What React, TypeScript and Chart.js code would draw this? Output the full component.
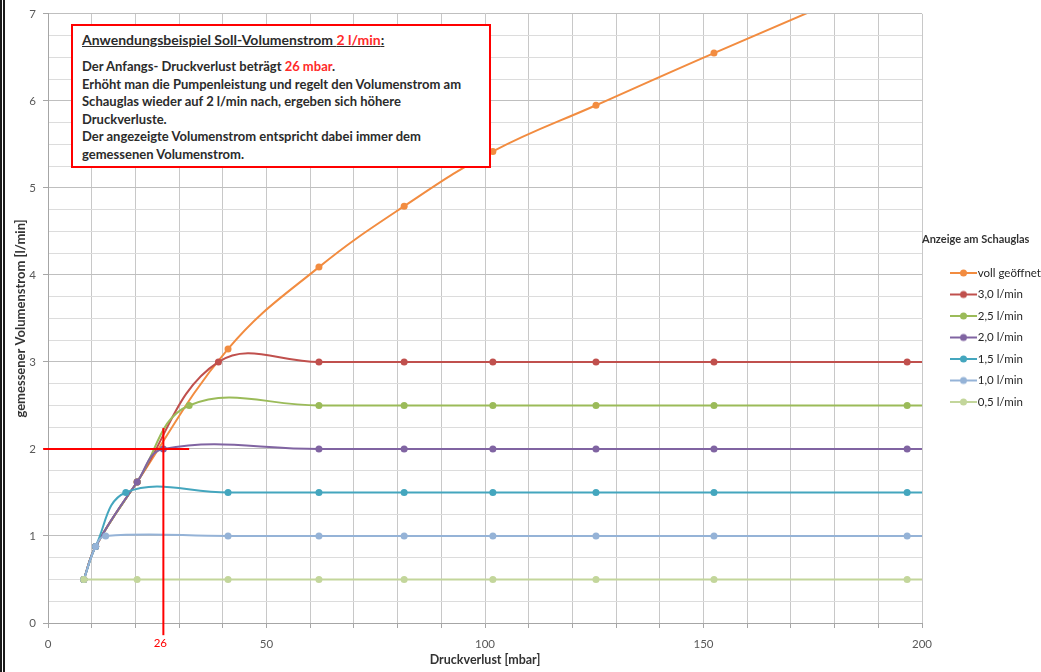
import React, { useEffect, useRef } from "react";
import { Chart, registerables } from "chart.js";

Chart.register(...registerables);

// ---- data ----
const SERIES_LABELS = ["voll geöffnet", "3,0 l/min", "2,5 l/min", "2,0 l/min", "1,5 l/min", "1,0 l/min", "0,5 l/min"];
const SERIES_COLORS = ["#F28C40", "#C0504D", "#9BBB59", "#8064A2", "#44A6BE", "#95B3D7", "#C3D69B"];

const X_VOLL = [8.2, 10.9, 20.4, 41.2, 62.0, 81.5, 101.8, 125.4, 152.4, 196.6];
const Y_VOLL = [0.5, 0.88, 1.62, 3.15, 4.09, 4.79, 5.42, 5.95, 6.55, 7.5];

const X_30 = [8.2, 10.9, 20.4, 39.0, 62.0, 81.5, 101.8, 125.4, 152.4, 196.6, 240];
const Y_30 = [0.5, 0.88, 1.62, 3.0, 3.0, 3.0, 3.0, 3.0, 3.0, 3.0, 3.0];

const X_25 = [8.2, 10.9, 20.4, 32.3, 62.0, 81.5, 101.8, 125.4, 152.4, 196.6, 240];
const Y_25 = [0.5, 0.88, 1.62, 2.5, 2.5, 2.5, 2.5, 2.5, 2.5, 2.5, 2.5];

const X_20 = [8.2, 10.9, 20.4, 26.4, 62.0, 81.5, 101.8, 125.4, 152.4, 196.6, 240];
const Y_20 = [0.5, 0.88, 1.62, 2.0, 2.0, 2.0, 2.0, 2.0, 2.0, 2.0, 2.0];

const X_15 = [8.2, 10.9, 17.8, 41.2, 62.0, 81.5, 101.8, 125.4, 152.4, 196.6, 240];
const Y_15 = [0.5, 0.88, 1.5, 1.5, 1.5, 1.5, 1.5, 1.5, 1.5, 1.5, 1.5];

const X_10 = [8.2, 10.9, 13.2, 41.2, 62.0, 81.5, 101.8, 125.4, 152.4, 196.6, 240];
const Y_10 = [0.5, 0.88, 1.0, 1.0, 1.0, 1.0, 1.0, 1.0, 1.0, 1.0, 1.0];

const X_05 = [8.2, 20.4, 41.2, 62.0, 81.5, 101.8, 125.4, 152.4, 196.6, 240];
const Y_05 = [0.5, 0.5, 0.5, 0.5, 0.5, 0.5, 0.5, 0.5, 0.5, 0.5];

const SERIES_X = [X_VOLL, X_30, X_25, X_20, X_15, X_10, X_05];
const SERIES_Y = [Y_VOLL, Y_30, Y_25, Y_20, Y_15, Y_10, Y_05];

const X_MIN = 0;
const X_MAX = 200;
const X_STEP = 10;
const X_LABEL_STEP = 50;
const Y_MIN = 0;
const Y_MAX = 7;
const Y_STEP = 0.25;

// example annotation (target 2 l/min -> 26 mbar)
const TARGET_FLOW = 2;
const TARGET_DP = 26.4;
const TARGET_DP_LABEL = "26";
const H_LINE_FROM = -1.1;
const H_LINE_TO = 32.3;
const V_LINE_TOP = 2.24;
const V_LINE_BOTTOM = -0.14;

const FONT = "Lato, 'Noto Sans', sans-serif";

function legendIcon(color: string): HTMLCanvasElement {
  const c = document.createElement("canvas");
  c.width = 50;
  c.height = 10;
  const ctx = c.getContext("2d")!;
  ctx.strokeStyle = color;
  ctx.lineWidth = 2;
  ctx.beginPath();
  ctx.moveTo(23, 5);
  ctx.lineTo(50, 5);
  ctx.stroke();
  ctx.fillStyle = color;
  ctx.beginPath();
  ctx.arc(36.5, 5, 3.5, 0, Math.PI * 2);
  ctx.fill();
  return c;
}

const redMarks = {
  id: "redMarks",
  afterDatasetsDraw(chart: any) {
    const { ctx } = chart;
    const xs = chart.scales.x;
    const ys = chart.scales.y;
    ctx.save();
    ctx.strokeStyle = "#FF0000";
    ctx.lineWidth = 2;
    ctx.beginPath();
    const yp = ys.getPixelForValue(TARGET_FLOW);
    ctx.moveTo(xs.getPixelForValue(H_LINE_FROM), yp);
    ctx.lineTo(xs.getPixelForValue(H_LINE_TO), yp);
    ctx.stroke();
    const xp = xs.getPixelForValue(TARGET_DP);
    ctx.beginPath();
    ctx.moveTo(xp, ys.getPixelForValue(V_LINE_TOP));
    ctx.lineTo(xp, ys.getPixelForValue(V_LINE_BOTTOM));
    ctx.stroke();
    ctx.fillStyle = "#FF0000";
    ctx.font = `11.5px ${FONT}`;
    ctx.textAlign = "center";
    ctx.textBaseline = "middle";
    ctx.fillText(TARGET_DP_LABEL, xp - 3, ys.bottom + 20);
    ctx.restore();
  },
};

export default function App() {
  const ref = useRef<HTMLCanvasElement | null>(null);

  useEffect(() => {
    document.body.style.margin = "0";
    const icons = SERIES_COLORS.map(legendIcon);
    const datasets = SERIES_LABELS.map((label, i) => ({
      label,
      data: SERIES_X[i].map((x, j) => ({ x, y: SERIES_Y[i][j] })),
      borderColor: SERIES_COLORS[i],
      backgroundColor: SERIES_COLORS[i],
      pointBackgroundColor: SERIES_COLORS[i],
      pointBorderColor: SERIES_COLORS[i],
      pointRadius: 3.5,
      pointBorderWidth: 0,
      borderWidth: 2,
      tension: 0.4,
      fill: false,
      order: SERIES_LABELS.length - 1 - i,
    }));

    const chart = new Chart(ref.current!, {
      type: "line",
      data: { datasets },
      plugins: [redMarks],
      options: {
        animation: false,
        responsive: false,
        layout: { padding: { top: 12, right: 0, bottom: 0, left: 0 } },
        font: { family: FONT },
        plugins: {
          tooltip: { enabled: false },
          legend: {
            position: "right",
            align: "start",
            maxWidth: 119,
            title: {
              display: true,
              text: "Anzeige am Schauglas",
              position: "start",
              color: "#333333",
              font: { family: FONT, size: 11, weight: "bold" },
              padding: { top: 222, bottom: 10 },
            },
            labels: {
              usePointStyle: true,
              pointStyleWidth: 40,
              padding: 10,
              color: "#262626",
              font: { family: FONT, size: 11.5 },
              sort: (a: any, b: any) => a.datasetIndex - b.datasetIndex,
              generateLabels: (c: any) =>
                Chart.defaults.plugins.legend.labels
                  .generateLabels(c)
                  .map((l: any) => ({ ...l, pointStyle: icons[l.datasetIndex] })),
            },
          },
        },
        scales: {
          x: {
            type: "linear",
            min: X_MIN,
            max: X_MAX,
            afterFit: (s: any) => {
              s.height = 49;
            },
            ticks: {
              stepSize: X_STEP,
              autoSkip: false,
              maxRotation: 0,
              padding: 9,
              color: "#595959",
              font: { family: FONT, size: 11.5 },
              callback: (v: any) => (Number(v) % X_LABEL_STEP === 0 ? String(v) : ""),
            },
            grid: { color: "#C8C8C8", tickLength: 5, tickColor: "#A6A6A6" },
            border: { color: "#A6A6A6", width: 1 },
            title: {
              display: true,
              text: "Druckverlust [mbar]",
              color: "#333333",
              font: { family: FONT, size: 12.5, weight: "bold" },
              padding: { top: 0, bottom: 5 },
            },
          },
          y: {
            type: "linear",
            min: Y_MIN,
            max: Y_MAX,
            afterFit: (s: any) => {
              s.width = 48;
            },
            ticks: {
              stepSize: Y_STEP,
              autoSkip: false,
              padding: 7,
              color: "#595959",
              font: { family: FONT, size: 11.5 },
              callback: (v: any) => (Number.isInteger(Number(v)) ? String(v) : ""),
            },
            grid: {
              color: (c: any) => (Number.isInteger(c.tick?.value) ? "#BFBFBF" : "#DCDCDC"),
              tickColor: (c: any) => (Number.isInteger(c.tick?.value) ? "#A6A6A6" : "rgba(0,0,0,0)"),
              tickLength: 5,
            },
            border: { color: "#A6A6A6", width: 1 },
            title: {
              display: true,
              text: "gemessener Volumenstrom [l/min]",
              color: "#333333",
              font: { family: FONT, size: 13, weight: "bold" },
              padding: { top: 13, bottom: 0 },
            },
          },
        },
      } as any,
    });
    return () => chart.destroy();
  }, []);

  return (
    <div style={{ position: "absolute", left: 0, top: 0, width: 1041, height: 672, background: "#fff", overflow: "hidden" }}>
      <canvas ref={ref} width={1041} height={672} style={{ display: "block" }} />
      <div
        style={{
          position: "absolute",
          left: 0,
          top: 0,
          width: 0,
          height: 672,
          borderLeft: "5px double #1a1a1a",
        }}
      />
      <div
        style={{
          position: "absolute",
          left: 71,
          top: 24,
          width: 416,
          height: 140,
          border: "2px solid #FF0000",
          background: "#fff",
          fontFamily: FONT,
          fontWeight: 700,
          fontSize: 13,
          color: "#2b2b2b",
          boxSizing: "content-box",
        }}
      >
        <div
          style={{
            position: "absolute",
            left: 9,
            top: 5,
            whiteSpace: "nowrap",
            textDecoration: "underline",
            fontSize: 14,
            lineHeight: "18px",
          }}
        >
          Anwendungsbeispiel Soll-Volumenstrom <span style={{ color: "#FF2A2A" }}>2 l/min</span>:
        </div>
        <div style={{ position: "absolute", left: 9, top: 32, whiteSpace: "nowrap", lineHeight: "17.6px" }}>
          <div>
            Der Anfangs- Druckverlust beträgt <span style={{ color: "#FF2A2A" }}>26 mbar</span>.
          </div>
          <div>Erhöht man die Pumpenleistung und regelt den Volumenstrom am</div>
          <div>Schauglas wieder auf 2 l/min nach, ergeben sich höhere</div>
          <div>Druckverluste.</div>
          <div>Der angezeigte Volumenstrom entspricht dabei immer dem</div>
          <div>gemessenen Volumenstrom.</div>
        </div>
      </div>
    </div>
  );
}
